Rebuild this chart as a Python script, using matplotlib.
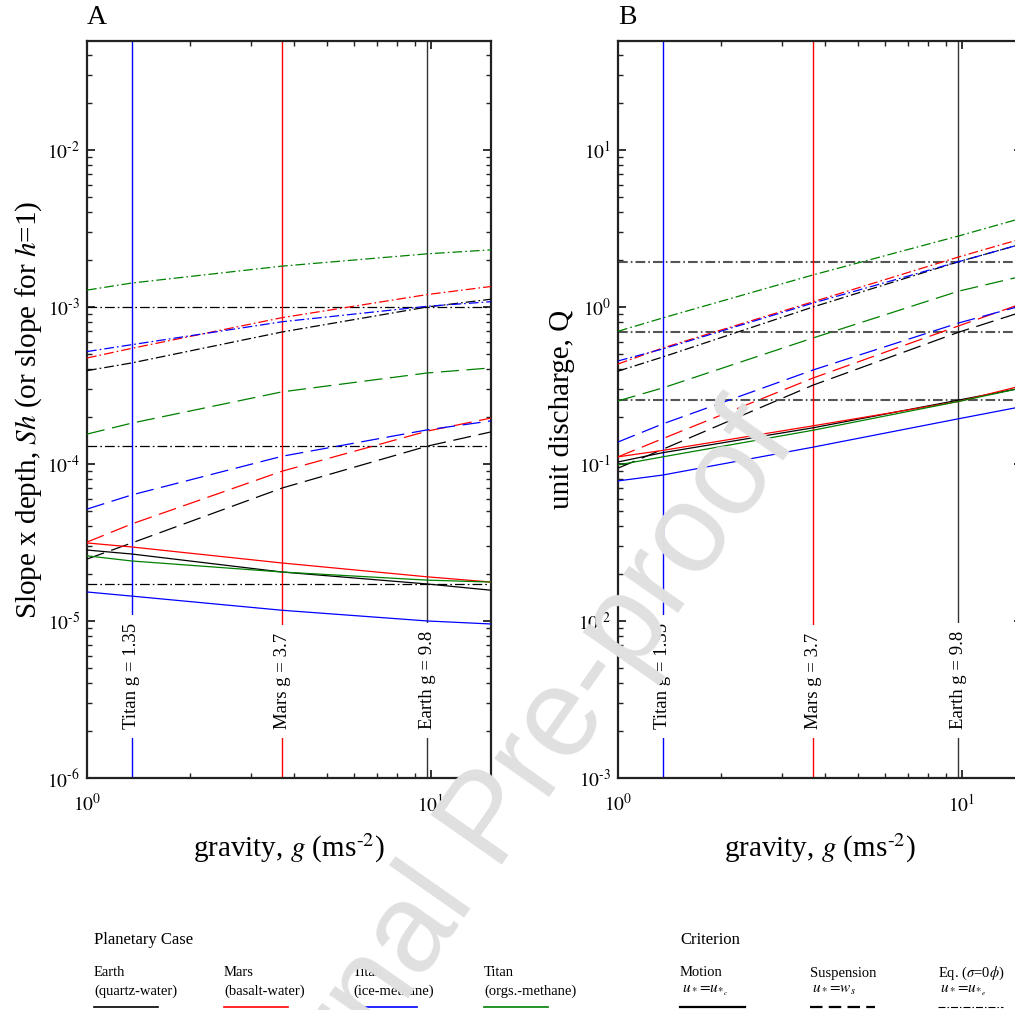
import numpy as np
import matplotlib
matplotlib.use("Agg")
import matplotlib.pyplot as plt
from matplotlib.lines import Line2D
from matplotlib.ticker import LogLocator, FuncFormatter, NullFormatter
import matplotlib.transforms as mtransforms

plt.rcParams['font.family'] = ['Liberation Serif', 'DejaVu Serif']
plt.rcParams['mathtext.fontset'] = 'stix'
plt.rcParams['lines.scale_dashes'] = False

# ---------------- data ----------------
g_pts = [1.0, 1.35, 3.7, 9.8, 15.0]

planet_names = ["Earth", "Mars", "Titan", "Titan"]
planet_subs = ["(quartz-water)", "(basalt-water)", "(ice-methane)", "(orgs.-methane)"]
planet_colors = ["#000000", "#ff0000", "#0000ff", "#008000"]

# Panel A: slope x depth, Sh
sh_motion_earth = [2.83e-5, 2.67e-5, 2.05e-5, 1.72e-5, 1.57e-5]
sh_motion_mars = [3.14e-5, 2.96e-5, 2.34e-5, 1.91e-5, 1.77e-5]
sh_motion_ice = [1.53e-5, 1.44e-5, 1.17e-5, 1.00e-5, 9.57e-6]
sh_motion_org = [2.60e-5, 2.41e-5, 2.05e-5, 1.82e-5, 1.77e-5]

sh_susp_earth = [2.48e-5, 3.14e-5, 7.03e-5, 1.30e-4, 1.60e-4]
sh_susp_mars = [3.18e-5, 4.15e-5, 9.00e-5, 1.62e-4, 1.96e-4]
sh_susp_ice = [5.16e-5, 6.35e-5, 1.12e-4, 1.65e-4, 1.88e-4]
sh_susp_org = [1.55e-4, 1.82e-4, 2.88e-4, 3.80e-4, 4.09e-4]

sh_eq_earth = [3.93e-4, 4.40e-4, 6.93e-4, 1.00e-3, 1.12e-3]
sh_eq_mars = [4.73e-4, 5.45e-4, 8.55e-4, 1.20e-3, 1.35e-3]
sh_eq_ice = [5.20e-4, 5.75e-4, 8.05e-4, 1.01e-3, 1.08e-3]
sh_eq_org = [1.28e-3, 1.42e-3, 1.82e-3, 2.18e-3, 2.31e-3]

sh_earth_ref = [1.0e-3, 1.3e-4, 1.72e-5]

# Panel B: unit discharge, Q
q_motion_earth = [0.103, 0.118, 0.170, 0.255, 0.305]
q_motion_mars = [0.111, 0.122, 0.175, 0.250, 0.315]
q_motion_ice = [0.078, 0.085, 0.128, 0.194, 0.232]
q_motion_org = [0.0986, 0.111, 0.164, 0.250, 0.305]

q_susp_earth = [0.094, 0.124, 0.318, 0.690, 0.93]
q_susp_mars = [0.111, 0.145, 0.353, 0.757, 1.05]
q_susp_ice = [0.138, 0.180, 0.397, 0.790, 1.02]
q_susp_org = [0.252, 0.305, 0.635, 1.26, 1.57]

q_eq_earth = [0.390, 0.480, 1.00, 1.94, 2.52]
q_eq_mars = [0.433, 0.548, 1.08, 2.08, 2.72]
q_eq_ice = [0.453, 0.540, 1.06, 1.94, 2.52]
q_eq_org = [0.700, 0.851, 1.60, 2.83, 3.68]

q_earth_ref = [1.94, 0.69, 0.255]

planet_g = [1.35, 3.7, 9.8]
planet_g_labels = ["Titan g = 1.35", "Mars g = 3.7", "Earth g = 9.8"]
planet_g_colors = ["#0000ff", "#ff0000", "#333333"]

criteria = ["Motion", "Suspension", "Eq. ($\\sigma$=0$\\phi$)"]
criteria_math = [r"$u_*\!=\!u_{*_c}$", r"$u_*\!=\!w_s$", r"$u_*\!=\!u_{*_e}$"]

# ---------------- figure ----------------
W, H = 1015, 1010
fig = plt.figure(figsize=(W / 100, H / 100), dpi=100)

def fx(px):
    return px / W

def fy(py):
    return 1 - py / H

axA = fig.add_axes([fx(87), fy(778), fx(404), (778 - 41) / H])
axB = fig.add_axes([fx(618), fy(778), fx(404), (778 - 41) / H])

dash_susp = (0, (13, 5.5))
dash_eq = (0, (7, 2.2, 1.2, 2.2))

def fmt(v, pos):
    e = int(round(np.log10(v)))
    if e < 0:
        return r"$10^{\text{-}%d}$" % (-e)
    return r"$10^{%d}$" % e

def style_axis(ax, ylim):
    ax.set_xscale('log')
    ax.set_yscale('log')
    ax.set_xlim(1, 15)
    ax.set_ylim(*ylim)
    for s in ax.spines.values():
        s.set_linewidth(1.6)
        s.set_color('#222222')
    ax.xaxis.set_major_locator(LogLocator(base=10, numticks=10))
    ax.xaxis.set_minor_locator(LogLocator(base=10, subs=np.arange(2, 10), numticks=20))
    ax.yaxis.set_major_locator(LogLocator(base=10, numticks=20))
    ax.yaxis.set_minor_locator(LogLocator(base=10, subs=np.arange(2, 10), numticks=40))
    ax.xaxis.set_major_formatter(FuncFormatter(fmt))
    ax.yaxis.set_major_formatter(FuncFormatter(fmt))
    ax.xaxis.set_minor_formatter(NullFormatter())
    ax.yaxis.set_minor_formatter(NullFormatter())
    ax.tick_params(which='both', direction='in', top=True, right=True, color='#222222')
    ax.tick_params(which='major', length=6, width=1.3, labelsize=14)
    ax.tick_params(which='minor', length=3.5, width=1.0)
    ax.tick_params(axis='x', which='major', pad=11)
    ax.tick_params(axis='y', which='major', pad=5)

def draw_panel(ax, motion, susp, eq, refs, ref_color, ref_lw):
    for vals, c in zip(eq, planet_colors):
        ax.plot(g_pts, vals, color=c, lw=0.9, linestyle=dash_eq, zorder=3)
    for vals, c in zip(susp, planet_colors):
        ax.plot(g_pts, vals, color=c, lw=0.9, linestyle=dash_susp, zorder=3)
    for vals, c in zip(motion, planet_colors):
        ax.plot(g_pts, vals, color=c, lw=0.9, linestyle='-', zorder=3)
    for r in refs:
        ax.axhline(r, color=ref_color, lw=ref_lw, linestyle=dash_eq, zorder=2)
    trans = mtransforms.blended_transform_factory(ax.transData, ax.transAxes)
    for gv, lab, c in zip(planet_g, planet_g_labels, planet_g_colors):
        ax.axvline(gv, color=c, lw=1.0, zorder=2)
        ax.text(gv, 0.066, lab, transform=trans, rotation=90, ha='center', va='bottom',
                fontsize=13.5, zorder=5,
                bbox=dict(facecolor='white', edgecolor='none', pad=6))

draw_panel(axA,
           [sh_motion_earth, sh_motion_mars, sh_motion_ice, sh_motion_org],
           [sh_susp_earth, sh_susp_mars, sh_susp_ice, sh_susp_org],
           [sh_eq_earth, sh_eq_mars, sh_eq_ice, sh_eq_org],
           sh_earth_ref, '#000000', 0.9)
draw_panel(axB,
           [q_motion_earth, q_motion_mars, q_motion_ice, q_motion_org],
           [q_susp_earth, q_susp_mars, q_susp_ice, q_susp_org],
           [q_eq_earth, q_eq_mars, q_eq_ice, q_eq_org],
           q_earth_ref, '#555555', 1.5)

style_axis(axA, (1e-6, 0.0494))
style_axis(axB, (1e-3, 49.4))

axA.set_ylabel(r"Slope x depth, $\mathit{Sh}$ (or slope for $\mathit{h}$=1)", fontsize=21, labelpad=2)
axB.set_ylabel("unit discharge, Q", fontsize=21, labelpad=2)
for ax in (axA, axB):
    ax.set_xlabel(r"gravity, $\mathit{g}$ (ms$^{\text{-}2}$)", fontsize=21, labelpad=12)

fig.text(fx(87), fy(18), "A", fontsize=20, ha='left', va='center')
fig.text(fx(618), fy(18), "B", fontsize=20, ha='left', va='center')

# ---------------- legend ----------------
fig.text(fx(94), fy(940), "Planetary Case", fontsize=12, ha='left', va='center')
for xp, name, sub, c in zip([94, 224, 353, 484], planet_names, planet_subs, planet_colors):
    fig.text(fx(xp), fy(973), name, fontsize=10.5, ha='left', va='center')
    fig.text(fx(xp), fy(991), sub, fontsize=10.5, ha='left', va='center')
    fig.add_artist(Line2D([fx(xp), fx(xp + 64)], [fy(1007), fy(1007)], color=c, lw=1.2,
                          transform=fig.transFigure))

fig.text(fx(680), fy(940), "Criterion", fontsize=12, ha='left', va='center')
crit_styles = ['-', (0, (9, 4.5)), (0, (5, 1.5, 1, 1.5))]
crit_lw = [1.6, 1.6, 0.8]
for xp, name, m, ls, lw in zip([680, 810, 938], criteria, criteria_math, crit_styles, crit_lw):
    fig.text(fx(xp), fy(973), name, fontsize=10.5, ha='left', va='center')
    fig.text(fx(xp + 2), fy(990), m, fontsize=11, ha='left', va='center')
    fig.add_artist(Line2D([fx(xp), fx(xp + 65)], [fy(1007), fy(1007)], color='black', lw=lw,
                          linestyle=ls, transform=fig.transFigure))

# watermark
fig.text(fx(492), fy(822), "Journal Pre-proof", fontsize=91, color='#e0e0e0',
         family=['Liberation Sans', 'DejaVu Sans'], rotation=55, rotation_mode='anchor',
         ha='center', va='center', zorder=10)

fig.savefig("out.png", dpi=100)
